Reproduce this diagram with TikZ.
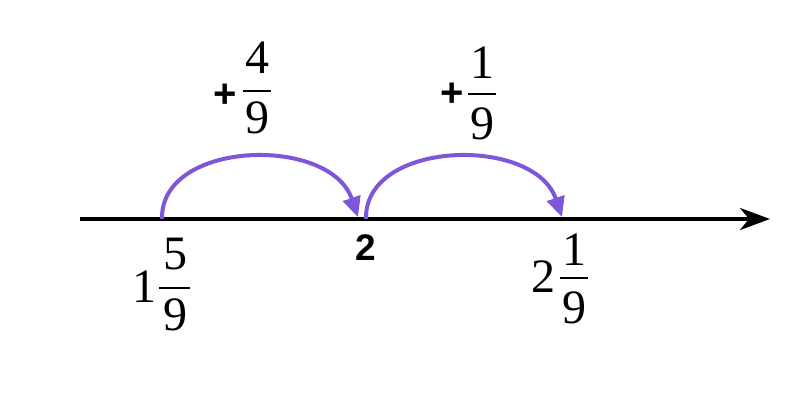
\documentclass[tikz,border=0pt]{standalone}
\usepackage{fontspec}
\setmainfont{Liberation Serif}
\newfontfamily\sansfam{Liberation Sans}
\usetikzlibrary{arrows.meta}
\definecolor{jump}{HTML}{7F56D9}
\tikzset{
  digit/.style={inner sep=0pt, font=\fontsize{24}{28}\selectfont},
  plusnode/.style={inner sep=0pt, font=\sansfam\bfseries\fontsize{20}{24}\selectfont},
  ticklabel/.style={inner sep=0pt, font=\sansfam\bfseries\fontsize{18.5}{22}\selectfont},
  fracbar/.style={line width=1.1pt},
  axis/.style={line width=2pt, -{Stealth[length=15pt,width=11pt,inset=4.5pt]}},
  jumparc/.style={jump, line width=2pt, -{Triangle[length=10pt,width=9pt]}}
}
\begin{document}
\begin{tikzpicture}[x=0.5pt,y=-0.5pt]
\useasboundingbox (0,0) rectangle (806,405);
% axis
\coordinate (a0) at (80,219);
\coordinate (a1) at (770,219);
\draw[axis] (a0) -- (a1);
% jump points
\coordinate (s1) at (162,219);
\coordinate (e1) at (358,217);
\coordinate (s2) at (366,219);
\coordinate (e2) at (562,217);
\draw[jumparc] (s1) .. controls (160,140) and (330,135) .. (e1);
\draw[jumparc] (s2) .. controls (364,140) and (534,135) .. (e2);
% +4/9
\node[plusnode] (p1) at (225,96) {+};
\node[digit] (n1) at (257,58) {4};
\node[digit] (d1) at (257,118) {9};
\coordinate (b1l) at (243,91);
\coordinate (b1r) at (271,91);
\draw[fracbar] (b1l) -- (b1r);
% +1/9
\node[plusnode] (p2) at (452,95) {+};
\node[digit] (n2) at (482,63) {1};
\node[digit] (d2) at (482,124) {9};
\coordinate (b2l) at (468,94);
\coordinate (b2r) at (496,94);
\draw[fracbar] (b2l) -- (b2r);
% label 2
\node[ticklabel] (two) at (366,248) {2};
% 1 5/9
\node[digit] (w1) at (144,287) {1};
\node[digit] (n3) at (175,254) {5};
\node[digit] (d3) at (175,315) {9};
\coordinate (b3l) at (159,288);
\coordinate (b3r) at (190,288);
\draw[fracbar] (b3l) -- (b3r);
% 2 1/9
\node[digit] (w2) at (543,277) {2};
\node[digit] (n4) at (574,250) {1};
\node[digit] (d4) at (574,308) {9};
\coordinate (b4l) at (560,278);
\coordinate (b4r) at (588,278);
\draw[fracbar] (b4l) -- (b4r);
\end{tikzpicture}
\end{document}
